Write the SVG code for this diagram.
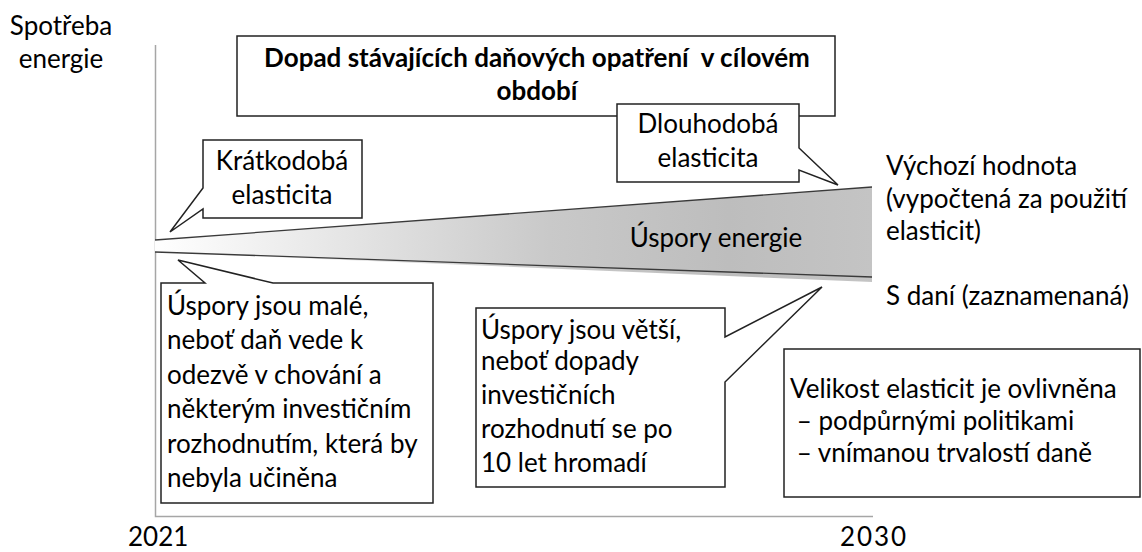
<svg xmlns="http://www.w3.org/2000/svg" width="1142" height="552" viewBox="0 0 1142 552">
<defs>
<linearGradient id="wg" x1="155" y1="0" x2="872" y2="0" gradientUnits="userSpaceOnUse">
<stop offset="0" stop-color="#ffffff"/>
<stop offset="0.55" stop-color="#c9c9c9"/>
<stop offset="0.8" stop-color="#bdbdbd"/>
<stop offset="1" stop-color="#c4c4c4"/>
</linearGradient>
</defs>
<style>
text{font-family:Lato,"Noto Sans",sans-serif;font-size:26px;fill:#000}
.c{text-anchor:middle}
.b{font-weight:bold;font-size:26px}
.box{fill:#fff;stroke:#222;stroke-width:1.5}
.axis{stroke:#a6a6a6;stroke-width:1.5;fill:none}
.ln{stroke:#3a3a3a;stroke-width:1.3;fill:none}
</style>
<rect width="1142" height="552" fill="#fff"/>
<g id="axes">
<path class="axis" d="M155.5,45 V516.5 H873"/>
</g>
<g id="wedge">
<polygon points="155,240 872,187 872,282 155,252" fill="url(#wg)"/>
</g>
<g id="connectors">
<line class="ln" x1="155" y1="240" x2="872" y2="187"/>
<line class="ln" x1="155" y1="252" x2="872" y2="277"/>
</g>
<g id="title">
<rect class="box" x="237" y="36" width="598" height="80"/>
<text class="c b" x="537" y="67" xml:space="preserve">Dopad stávajících daňových opatření  v cílovém</text>
<text class="c b" x="537" y="100">období</text>
</g>
<g id="kratkodoba">
<path class="box" d="M203,140 H362 V218 H203 V209 L170,232 L203,188 Z"/>
<text class="c" x="282" y="170">Krátkodobá</text>
<text class="c" x="282" y="204">elasticita</text>
</g>
<g id="dlouhodoba">
<path class="box" d="M617,104 H799 V148 L838,185 L799,170 V182 H617 Z"/>
<text class="c" x="708" y="133">Dlouhodobá</text>
<text class="c" x="708" y="167">elasticita</text>
</g>
<g id="uspory-energie">
<text class="c" x="716" y="247">Úspory energie</text>
</g>
<g id="ylabel">
<text class="c" x="61" y="35">Spotřeba</text>
<text class="c" x="61" y="68">energie</text>
</g>
<g id="vychozi">
<text x="886" y="175">Výchozí hodnota</text>
<text x="886" y="208">(vypočtená za použití</text>
<text x="886" y="240">elasticit)</text>
</g>
<g id="s-dani">
<text x="886" y="305">S daní (zaznamenaná)</text>
</g>
<g id="male">
<path class="box" d="M161,283 H205 L178,260 L273,283 H433 V503 H161 Z"/>
<text x="167" y="315">Úspory jsou malé,</text>
<text x="167" y="349">neboť daň vede k</text>
<text x="167" y="384">odezvě v chování a</text>
<text x="167" y="418">některým investičním</text>
<text x="167" y="453">rozhodnutím, která by</text>
<text x="167" y="487">nebyla učiněna</text>
</g>
<g id="vetsi">
<path class="box" d="M476,308 H725 V337 L822,287 L725,382 V487 H476 Z"/>
<text x="481" y="339">Úspory jsou větší,</text>
<text x="481" y="370">neboť dopady</text>
<text x="481" y="404">investičních</text>
<text x="481" y="438">rozhodnutí se po</text>
<text x="481" y="472">10 let hromadí</text>
</g>
<g id="velikost">
<rect class="box" x="784" y="349" width="356" height="148"/>
<text x="790" y="398">Velikost elasticit je ovlivněna</text>
<text x="790" y="430" xml:space="preserve"> – podpůrnými politikami</text>
<text x="790" y="462" xml:space="preserve"> – vnímanou trvalostí daně</text>
</g>
<g id="years">
<text x="128" y="546">2021</text>
<text x="840" y="546" textLength="66">2030</text>
</g>
</svg>
